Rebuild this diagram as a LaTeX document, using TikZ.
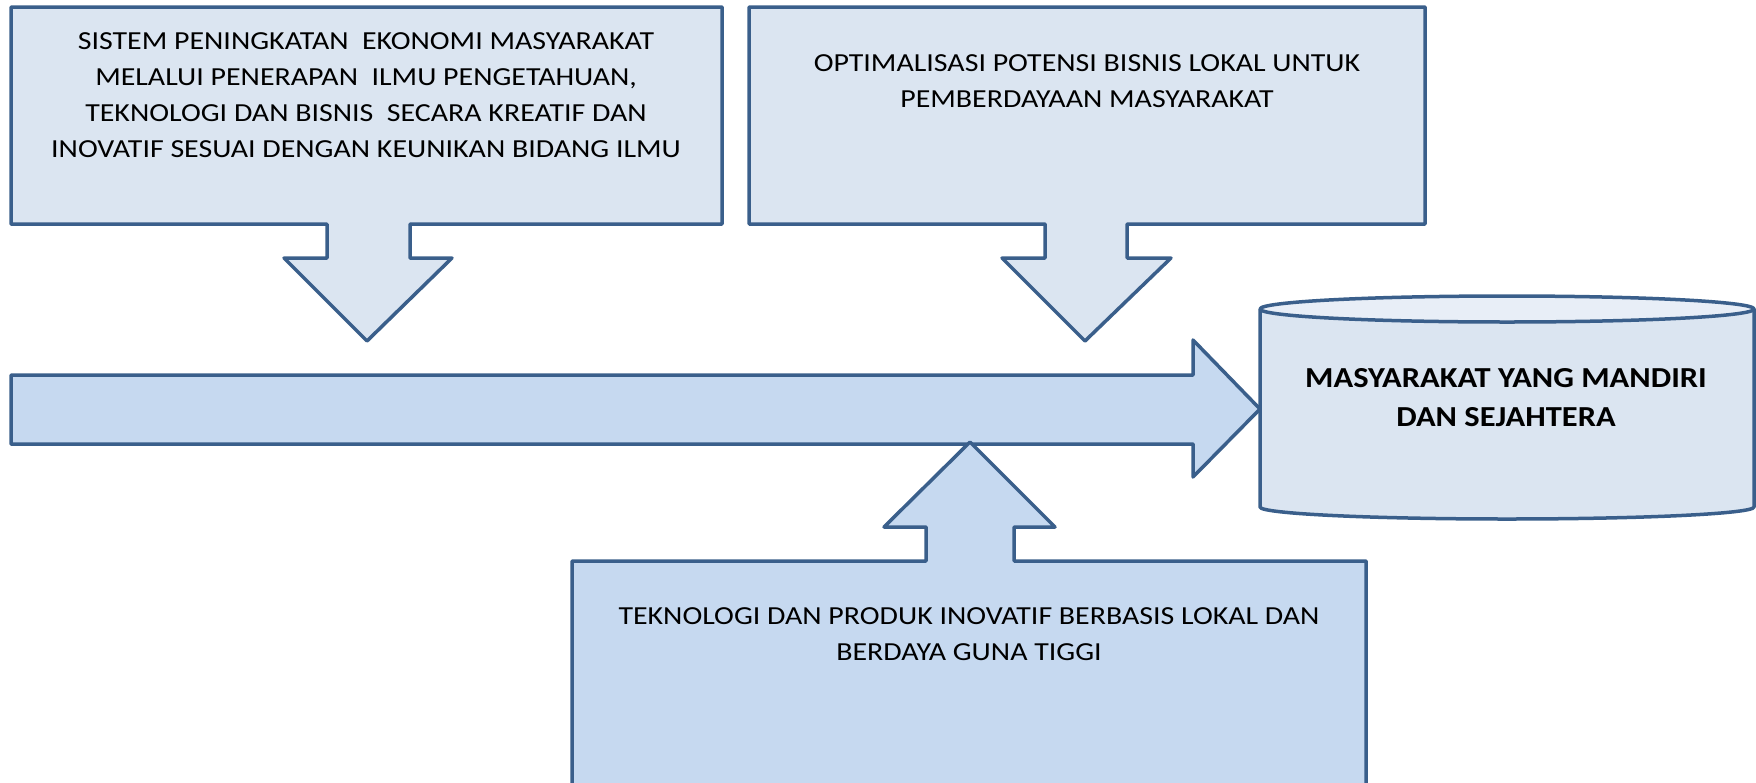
\documentclass[tikz,border=0pt]{standalone}
\usepackage{fontspec}
\setmainfont{Carlito}
\newfontfamily\widefont[FakeStretch=1.15]{Carlito}
\newfontfamily\widebold[FakeStretch=1.12]{Carlito Bold}
\definecolor{edge}{HTML}{3A5F8B}
\definecolor{lightfill}{HTML}{DBE5F1}
\definecolor{midfill}{HTML}{C6D9F0}
\definecolor{topfill}{HTML}{E8EEF7}
\tikzset{
  shapeline/.style={draw=edge, line width=3.5pt, line join=round},
  lighttext/.style={align=center, font=\widefont\fontsize{26}{36}\selectfont, text=black, inner sep=0pt},
  goaltext/.style={align=center, font=\widebold\fontsize{29}{39}\selectfont, text=black, inner sep=0pt}
}
\begin{document}
\begin{tikzpicture}[x=1pt, y=-1pt]
\useasboundingbox (0,0) rectangle (1756,782);
\clip (0,0) rectangle (1756,782);
% main horizontal arrow
\draw[shapeline, fill=midfill] (11,375) -- (1193,375) -- (1193,340) -- (1260,409) -- (1193,477) -- (1193,444) -- (11,444) -- cycle;
% box 1 callout
\draw[shapeline, fill=lightfill] (11,7) -- (722,7) -- (722,224) -- (410,224) -- (410,258) -- (452,258) -- (367,341) -- (284,258) -- (327,258) -- (327,224) -- (11,224) -- cycle;
% box 2 callout
\draw[shapeline, fill=lightfill] (749,7) -- (1425,7) -- (1425,224) -- (1127,224) -- (1127,258) -- (1171,258) -- (1085,341) -- (1002,258) -- (1045,258) -- (1045,224) -- (749,224) -- cycle;
% bottom callout
\draw[shapeline, fill=midfill] (572,800) -- (572,561) -- (926,561) -- (926,527) -- (884,527) -- (970,442) -- (1055,527) -- (1014,527) -- (1014,561) -- (1366,561) -- (1366,800);
% cylinder
\draw[shapeline, fill=lightfill] (1260,309) -- (1260,507) arc[start angle=180, end angle=360, x radius=247pt, y radius=12pt] -- (1754,309) -- cycle;
\draw[shapeline, fill=topfill] (1507,309) ellipse[x radius=247pt, y radius=13pt];
% texts
\node[lighttext] (t1) at (366,95) {SISTEM PENINGKATAN~ EKONOMI MASYARAKAT\\MELALUI PENERAPAN~ ILMU PENGETAHUAN,\\TEKNOLOGI DAN BISNIS~ SECARA KREATIF DAN\\INOVATIF SESUAI DENGAN KEUNIKAN BIDANG ILMU};
\node[lighttext] (t2) at (1087,81) {OPTIMALISASI POTENSI BISNIS LOKAL UNTUK\\PEMBERDAYAAN MASYARAKAT};
\node[lighttext] (t3) at (969,634) {TEKNOLOGI DAN PRODUK INOVATIF BERBASIS LOKAL DAN\\BERDAYA GUNA TIGGI};
\node[goaltext] (goal) at (1506,398) {MASYARAKAT YANG MANDIRI\\DAN SEJAHTERA};
\end{tikzpicture}
\end{document}
